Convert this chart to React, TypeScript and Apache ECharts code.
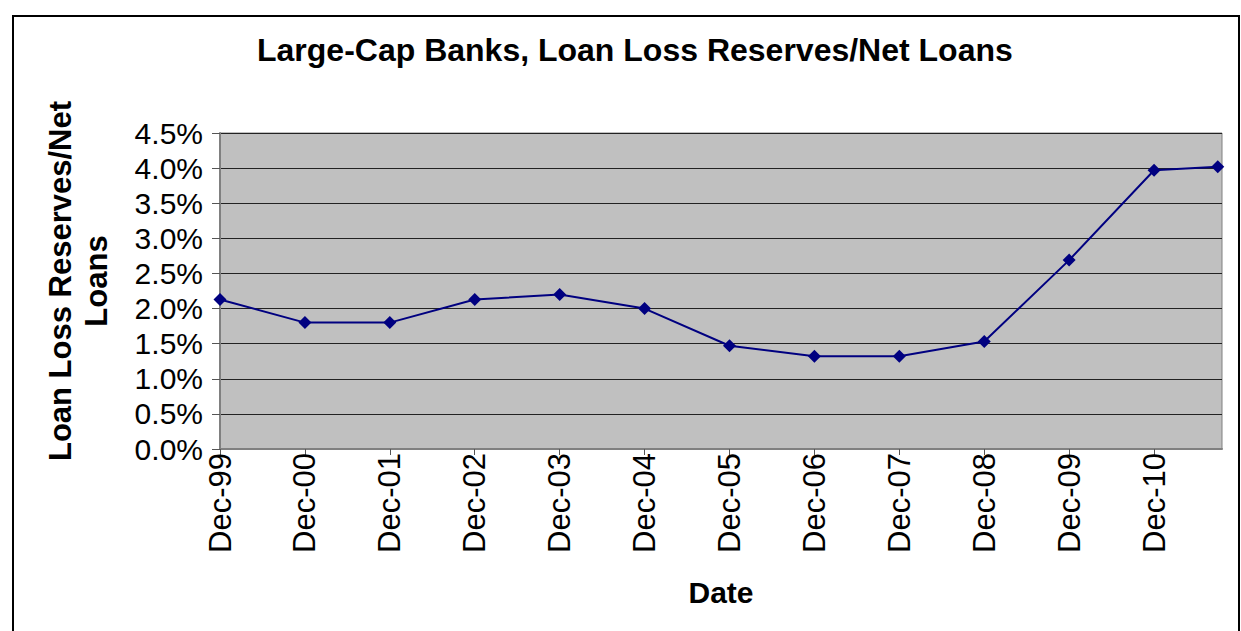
import React, { useEffect, useRef } from "react";
import * as echarts from "echarts";

const categories = ["Dec-99", "Dec-00", "Dec-01", "Dec-02", "Dec-03", "Dec-04", "Dec-05", "Dec-06", "Dec-07", "Dec-08", "Dec-09", "Dec-10"];
// years since Dec-99 for each observation (last one is Sep-11)
const dates = [0, 1, 2, 3, 4, 5, 6, 7, 8, 9, 10, 11, 11.75];
const values = [2.13, 1.8, 1.8, 2.13, 2.2, 2.0, 1.47, 1.32, 1.32, 1.53, 2.69, 3.97, 4.02];
const yTicks = [0, 0.5, 1, 1.5, 2, 2.5, 3, 3.5, 4, 4.5];

const FONT = "'Liberation Sans', Arial, sans-serif";

export default function App() {
  const ref = useRef<HTMLDivElement>(null);
  useEffect(() => {
    document.body.style.margin = "0";
    const chart = echarts.init(ref.current!, null, { renderer: "svg" });
    const tickVals = categories.map((_, i) => i);
    chart.setOption({
      animation: false,
      backgroundColor: "#ffffff",
      textStyle: { fontFamily: FONT },
      title: {
        text: "Large-Cap Banks, Loan Loss Reserves/Net Loans",
        left: 257,
        top: 34,
        padding: 0,
        textStyle: { fontFamily: FONT, fontSize: 32, fontWeight: "bold", color: "#000" },
      },
      graphic: [
        {
          type: "rect",
          shape: { x: 13, y: 16, width: 1226, height: 650 },
          style: { fill: "none", stroke: "#000", lineWidth: 2 },
          silent: true,
          z: 100,
        },
      ],
      grid: {
        left: 220,
        right: 19,
        top: 133,
        bottom: 182,
        show: true,
        backgroundColor: "#C0C0C0",
        borderColor: "#808080",
        borderWidth: 1,
      },
      xAxis: {
        type: "value",
        min: 0,
        max: 11.8,
        interval: 1,
        name: "Date",
        nameLocation: "middle",
        nameGap: 128,
        nameTextStyle: { fontFamily: FONT, fontSize: 30, fontWeight: "bold", color: "#000" },
        axisLine: { show: true, onZero: false, lineStyle: { color: "#808080", width: 2 } },
        axisTick: { show: true, length: 6, customValues: tickVals, lineStyle: { color: "#555" } },
        axisLabel: {
          rotate: 90,
          margin: 4,
          fontFamily: FONT,
          fontSize: 31,
          color: "#000",
          padding: [0, 0, 10, 0],
          customValues: tickVals,
          formatter: (v: number) => {
            const i = Math.round(v);
            return Math.abs(v - i) < 1e-6 && categories[i] ? categories[i] : "";
          },
        },
        splitLine: { show: false },
      },
      yAxis: {
        type: "value",
        min: yTicks[0],
        max: yTicks[yTicks.length - 1],
        interval: 0.5,
        name: "Loan Loss Reserves/Net\nLoans",
        nameLocation: "middle",
        nameRotate: 90,
        nameGap: 106,
        nameTextStyle: { fontFamily: FONT, fontSize: 31, fontWeight: "bold", color: "#000", lineHeight: 36, padding: [0, 0, 0, 20] },
        axisLine: { show: true, lineStyle: { color: "#808080", width: 2 } },
        axisTick: { show: true, length: 8, lineStyle: { color: "#555" } },
        axisLabel: {
          margin: 17,
          fontFamily: FONT,
          fontSize: 30,
          color: "#000",
          formatter: (v: number) => v.toFixed(1) + "%",
        },
        splitLine: { show: true, lineStyle: { color: "#222", width: 1 } },
      },
      series: [
        {
          type: "line",
          data: dates.map((d, i) => [d, values[i]]),
          symbol: "diamond",
          symbolSize: 13,
          lineStyle: { color: "#000080", width: 2 },
          itemStyle: { color: "#000080" },
          clip: false,
        },
      ],
    });
    return () => chart.dispose();
  }, []);
  return <div ref={ref} style={{ position: "absolute", left: 0, top: 0, width: 1241, height: 631 }} />;
}
